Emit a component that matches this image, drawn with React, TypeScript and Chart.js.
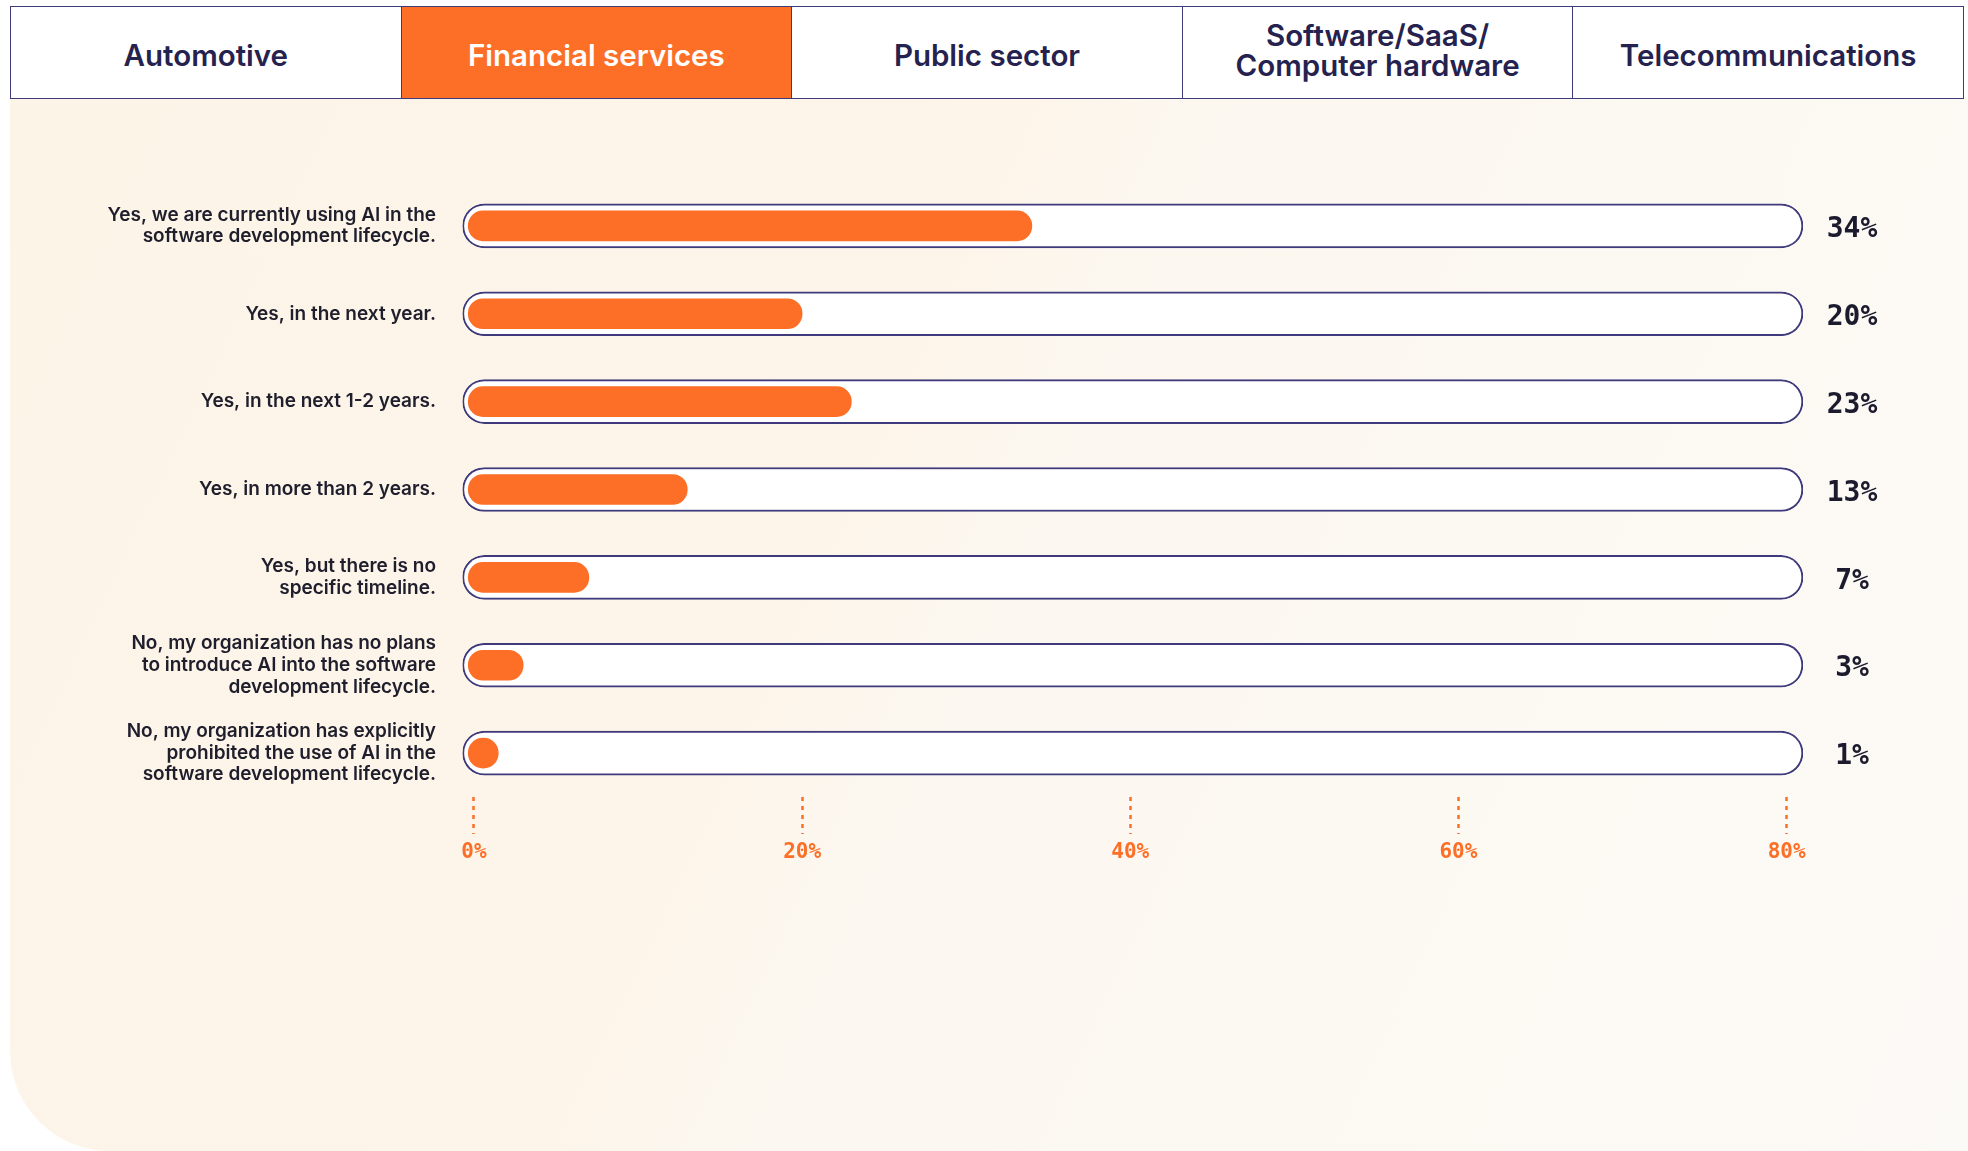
import React, { useEffect, useRef } from "react";
import { Chart, registerables } from "chart.js";

Chart.register(...registerables);

// ---------- data ----------
const TABS: (string | string[])[] = [
  "Automotive",
  "Financial services",
  "Public sector",
  ["Software/SaaS/", "Computer hardware"],
  "Telecommunications",
];
const ACTIVE_TAB = 1;

const CATEGORIES: (string | string[])[] = [
  ["Yes, we are currently using AI in the", "software development lifecycle."],
  "Yes, in the next year.",
  "Yes, in the next 1-2 years.",
  "Yes, in more than 2 years.",
  ["Yes, but there is no", "specific timeline."],
  ["No, my organization has no plans", "to introduce AI into the software", "development lifecycle."],
  ["No, my organization has explicitly", "prohibited the use of AI in the", "software development lifecycle."],
];
const VALUES = [34, 20, 23, 13, 7, 3, 1];
const TICK_VALUES = [0, 20, 40, 60, 80];

// axis range (track spans the whole range)
const AXIS_MIN = -0.7;
const AXIS_MAX = 81;
const BAR_BASE = -0.35;

// ---------- styles ----------
const ORANGE = "#fd6e26";
const NAVY = "#3f3a7b";
const LABEL_COLOR = "#1f1e2c";
const TAB_TEXT = "#25224f";

const valueLabelPlugin = {
  id: "valueLabels",
  afterDatasetsUpdate(chart: any) {
    // minimum visible length for tiny bars (pill becomes a circle)
    const meta = chart.getDatasetMeta(0);
    meta.data.forEach((el: any) => {
      const minLen = el.height;
      if (el.x - el.base < minLen) el.x = el.base + minLen;
    });
  },
  afterDatasetsDraw(chart: any) {
    const { ctx, chartArea } = chart;
    const meta = chart.getDatasetMeta(0);
    ctx.save();
    ctx.font = "bold 28px 'DejaVu Sans Mono'";
    ctx.fillStyle = "#1c1b2e";
    ctx.textAlign = "center";
    ctx.textBaseline = "middle";
    meta.data.forEach((el: any, i: number) => {
      ctx.fillText(`${VALUES[i]}%`, chartArea.right + 49, el.y + 4);
    });
    ctx.restore();
  },
};

function BarChart() {
  const ref = useRef<HTMLCanvasElement | null>(null);
  useEffect(() => {
    if (!ref.current) return;
    const chart = new Chart(ref.current, {
      type: "bar",
      data: {
        labels: CATEGORIES,
        datasets: [
          {
            label: "Share",
            data: VALUES,
            base: BAR_BASE,
            backgroundColor: ORANGE,
            borderWidth: 0,
            borderRadius: 15,
            borderSkipped: false,
            barThickness: 30,
            grouped: false,
            order: 0,
          } as any,
          {
            label: "Track",
            data: CATEGORIES.map(() => [AXIS_MIN, AXIS_MAX]),
            backgroundColor: "#ffffff",
            borderColor: NAVY,
            borderWidth: 2,
            borderRadius: 22,
            borderSkipped: false,
            barThickness: 44,
            grouped: false,
            order: 1,
          } as any,
        ],
      },
      options: {
        indexAxis: "y",
        responsive: false,
        animation: false,
        devicePixelRatio: 1,
        layout: { padding: { top: 83, bottom: 274, left: 0, right: 165 } },
        plugins: { legend: { display: false }, tooltip: { enabled: false } },
        scales: {
          x: {
            type: "linear",
            min: AXIS_MIN,
            max: AXIS_MAX,
            afterBuildTicks: (axis: any) => {
              axis.ticks = TICK_VALUES.map((v) => ({ value: v }));
            },
            afterFit: (scale: any) => {
              scale.height = 80;
            },
            border: { display: false },
            grid: {
              drawOnChartArea: false,
              drawTicks: true,
              tickLength: 37,
              tickColor: ORANGE,
              tickWidth: 2.5,
              tickBorderDash: [4, 5],
            } as any,
            ticks: {
              color: ORANGE,
              padding: 6,
              font: { family: "'DejaVu Sans Mono'", size: 21, weight: "bold" },
              callback: (v: any) => `${v}%`,
              maxRotation: 0,
            },
          },
          y: {
            type: "category",
            afterFit: (scale: any) => {
              scale.width = 462.5;
            },
            border: { display: false },
            grid: { display: false, drawTicks: false },
            ticks: {
              color: LABEL_COLOR,
              padding: 26.5,
              crossAlign: "near",
              font: { family: "Inter", size: 19, weight: "600", lineHeight: 1.14 } as any,
            },
          },
        },
      },
      plugins: [valueLabelPlugin],
    } as any);
    return () => chart.destroy();
  }, []);
  return (
    <canvas
      ref={ref}
      width={1968}
      height={1052}
      style={{ position: "absolute", left: 0, top: 99, width: 1968, height: 1052 }}
    />
  );
}

export default function App() {
  return (
    <div>
      {/* panel */}
      <div
        style={{
          position: "absolute",
          left: 10,
          top: 99,
          width: 1958,
          height: 1052,
          borderBottomLeftRadius: 100,
          background:
            "linear-gradient(115deg, #fdf4e8 0%, #fdf5ea 42%, #fcf7ef 48%, #fcf9f3 72%, #fcfaf6 100%)",
        }}
      />
      {/* tabs */}
      <div
        style={{
          position: "absolute",
          left: 10,
          top: 6,
          width: 1954,
          height: 93,
          boxSizing: "border-box",
          border: `1.5px solid ${NAVY}`,
          display: "flex",
          background: "#ffffff",
          fontFamily: "Inter, 'Noto Sans', sans-serif",
        }}
      >
        {TABS.map((t, i) => (
          <div
            key={i}
            style={{
              flex: 1,
              display: "flex",
              alignItems: "center",
              justifyContent: "center",
              textAlign: "center",
              boxSizing: "border-box",
              borderLeft: i === 0 ? "none" : `1.5px solid ${NAVY}`,
              background: i === ACTIVE_TAB ? ORANGE : "#ffffff",
              color: i === ACTIVE_TAB ? "#ffffff" : TAB_TEXT,
              fontSize: 29.5,
              fontWeight: 600,
              lineHeight: "30px",
              paddingTop: Array.isArray(t) ? 0 : 5,
              paddingBottom: Array.isArray(t) ? 5 : 0,
            }}
          >
            <div>
              {Array.isArray(t)
                ? t.map((line, j) => <div key={j}>{line}</div>)
                : t}
            </div>
          </div>
        ))}
      </div>
      <BarChart />
    </div>
  );
}
